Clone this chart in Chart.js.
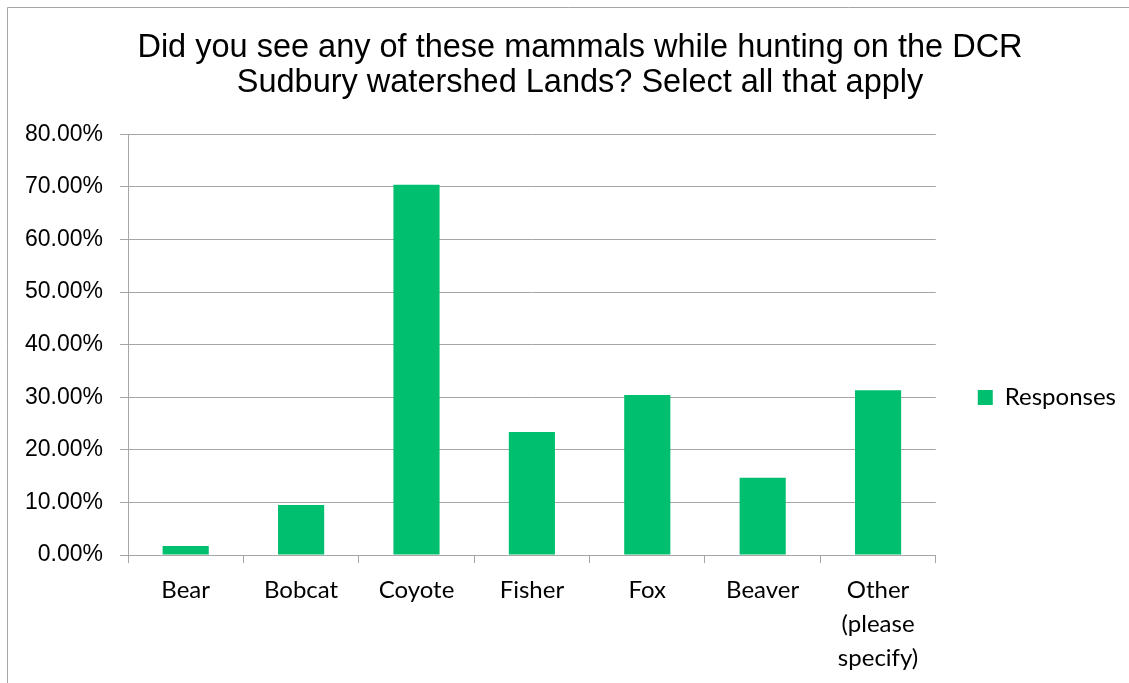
<!DOCTYPE html>
<html>
<head>
<meta charset="utf-8">
<script src="https://cdn.jsdelivr.net/npm/chart.js@4"></script>
<style>
html,body{margin:0;padding:0;background:#fff;overflow:hidden;}
#wrap{position:relative;width:1129px;height:683px;}
</style>
</head>
<body>
<div id="wrap"><canvas id="c"></canvas></div>
<script>
const titleLines = ['Did you see any of these mammals while hunting on the DCR', 'Sudbury watershed Lands? Select all that apply'];
const categories = ['Bear', 'Bobcat', 'Coyote', 'Fisher', 'Fox', 'Beaver', ['Other', '(please', 'specify)']];
const seriesName = 'Responses';
const responses = [1.7, 9.5, 70.4, 23.4, 30.4, 14.7, 31.3];
const yMin = 0, yMax = 80, yStep = 10;

const gridColor = '#a6a6a6';

const framePlugin = {
  id: 'frame',
  afterLayout(chart) {
    // the original title is centred on a slightly wider chart frame
    if (chart.titleBlock) chart.titleBlock.left += 26;
  },
  beforeDraw(chart) {
    const ctx = chart.ctx;
    ctx.save();
    ctx.strokeStyle = '#a6a6a6';
    ctx.lineWidth = 1;
    ctx.beginPath();
    ctx.moveTo(7.5, chart.height);
    ctx.lineTo(7.5, 7.5);
    ctx.lineTo(chart.width, 7.5);
    ctx.stroke();
    ctx.restore();
  }
};

new Chart(document.getElementById('c'), {
  type: 'bar',
  data: {
    labels: categories,
    datasets: [{
      label: seriesName,
      data: responses,
      backgroundColor: '#00BF6F',
      borderWidth: 0,
      barPercentage: 0.4,
      categoryPercentage: 1.0
    }]
  },
  options: {
    responsive: true,
    maintainAspectRatio: false,
    animation: false,
    devicePixelRatio: 1,
    layout: { padding: { left: 8, right: 3, top: 7, bottom: 0 } },
    plugins: {
      title: {
        display: true,
        text: titleLines,
        color: '#000',
        font: { family: 'Liberation Sans, Arial, sans-serif', size: 32.5, weight: 'normal', lineHeight: 1.08 },
        padding: { top: 23, bottom: 34 }
      },
      legend: {
        position: 'right',
        align: 'center',
        title: {
          display: true,
          text: ' ',
          font: { size: 5, lineHeight: 1.2 },
          padding: { top: 99, bottom: 0 }
        },
        labels: {
          boxWidth: 15,
          boxHeight: 15,
          padding: 42,
          color: '#000',
          font: { family: 'Lato, Calibri, sans-serif', size: 24 }
        }
      },
      tooltip: { enabled: false }
    },
    scales: {
      x: {
        afterFit(scale) { scale.height = 128; },
        grid: {
          display: true,
          offset: true,
          drawOnChartArea: false,
          drawTicks: true,
          tickLength: 8,
          color: gridColor
        },
        border: { display: true, color: gridColor },
        ticks: {
          color: '#000',
          padding: 10,
          maxRotation: 0,
          autoSkip: false,
          font: { family: 'Lato, Calibri, sans-serif', size: 24, lineHeight: '34px' }
        }
      },
      y: {
        min: yMin,
        max: yMax,
        afterFit(scale) { scale.width = 120; },
        grid: {
          color: gridColor,
          drawTicks: true,
          tickLength: 8
        },
        border: { display: true, color: gridColor },
        ticks: {
          stepSize: yStep,
          color: '#000',
          padding: 17,
          font: { family: 'Liberation Sans, Arial, sans-serif', size: 23 },
          callback: v => v.toFixed(2) + '%'
        }
      }
    }
  },
  plugins: [framePlugin]
});
</script>
</body>
</html>
